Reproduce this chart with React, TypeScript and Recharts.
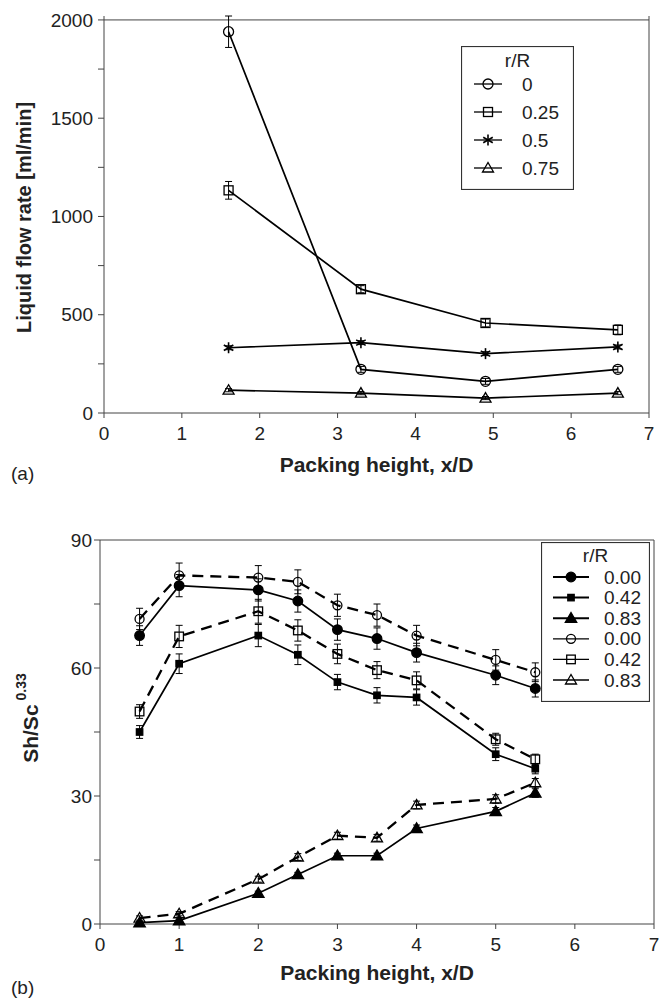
import React from "react";
import { ErrorBar, Legend, Line, LineChart, ReferenceLine, XAxis, YAxis } from "recharts";

const FONT = '"Liberation Sans", Arial, Helvetica, sans-serif';
const AXIS = "#444";
const INK = "#222";

// (a) liquid flow rate at four radial positions
const heightA = [1.6, 3.3, 4.9, 6.6];
const flowR0 = [1940, 222, 161, 222];
const flowR025 = [1133, 630, 458, 423];
const flowR05 = [332, 358, 302, 336];
const flowR075 = [116, 101, 76, 101];
const errFlowR0 = [80, 15, 15, 15];
const errFlowR025 = [45, 18, 20, 25];
const errFlowR05 = [10, 10, 10, 10];
const errFlowR075 = [8, 8, 8, 8];
const flowTicks = [0, 250, 500, 750, 1000, 1250, 1500, 1750, 2000];

// (b) Sh/Sc^0.33 along the bed, two data sets (filled / open symbols)
const heightB = [0.5, 1, 2, 2.5, 3, 3.5, 4, 5, 5.5];
const shFilled000 = [67.6, 79.3, 78.3, 75.7, 69.0, 66.9, 63.6, 58.3, 55.2];
const shFilled042 = [45.0, 61.0, 67.6, 63.1, 56.7, 53.6, 53.1, 39.8, 36.4];
const shFilled083 = [0.3, 0.8, 7.2, 11.6, 16.0, 16.0, 22.4, 26.4, 30.7];
const shOpen000 = [71.5, 81.7, 81.2, 80.2, 74.7, 72.4, 67.6, 61.9, 59.0];
const shOpen042 = [49.8, 67.4, 73.3, 68.8, 63.3, 59.5, 57.1, 43.3, 38.6];
const shOpen083 = [1.4, 2.4, 10.5, 15.7, 20.7, 20.2, 27.9, 29.3, 33.1];
const errFilled000 = [2.3, 2.6, 2.6, 2.6, 2.5, 2.5, 2.2, 2.2, 2.0];
const errFilled042 = [1.5, 2.3, 2.6, 2.3, 1.8, 1.8, 1.8, 1.5, 1.2];
const errFilled083 = [0.3, 0.3, 0.5, 0.5, 0.6, 0.6, 0.8, 0.9, 1.0];
const errOpen000 = [2.5, 2.9, 2.8, 2.8, 2.6, 2.6, 2.4, 2.4, 2.2];
const errOpen042 = [1.6, 2.6, 2.8, 2.5, 2.3, 2.0, 2.0, 1.4, 1.2];
const errOpen083 = [0.5, 0.5, 0.7, 0.8, 0.8, 0.8, 0.9, 1.0, 1.0];
const shTicks = [0, 15, 30, 45, 60, 75, 90];

const xTicks = [0, 1, 2, 3, 4, 5, 6, 7];

const rowsA = heightA.map((x, i) => ({
  x,
  r0: flowR0[i],
  r025: flowR025[i],
  r05: flowR05[i],
  r075: flowR075[i],
  e0: errFlowR0[i],
  e025: errFlowR025[i],
  e05: errFlowR05[i],
  e075: errFlowR075[i],
}));

const rowsB = heightB.map((x, i) => ({
  x,
  f000: shFilled000[i],
  f042: shFilled042[i],
  f083: shFilled083[i],
  o000: shOpen000[i],
  o042: shOpen042[i],
  o083: shOpen083[i],
  ef000: errFilled000[i],
  ef042: errFilled042[i],
  ef083: errFilled083[i],
  eo000: errOpen000[i],
  eo042: errOpen042[i],
  eo083: errOpen083[i],
}));

type Shape = "circle" | "square" | "star" | "triangle";

type SeriesDef = {
  key: string;
  err: string;
  name: string;
  shape: Shape;
  filled: boolean;
  size: number;
  dashed?: boolean;
};

const seriesA: SeriesDef[] = [
  { key: "r0", err: "e0", name: "0", shape: "circle", filled: false, size: 5 },
  { key: "r025", err: "e025", name: "0.25", shape: "square", filled: false, size: 4.5 },
  { key: "r05", err: "e05", name: "0.5", shape: "star", filled: false, size: 5.5 },
  { key: "r075", err: "e075", name: "0.75", shape: "triangle", filled: false, size: 5 },
];

const seriesB: SeriesDef[] = [
  { key: "f000", err: "ef000", name: "0.00", shape: "circle", filled: true, size: 4.8 },
  { key: "f042", err: "ef042", name: "0.42", shape: "square", filled: true, size: 3.2 },
  { key: "f083", err: "ef083", name: "0.83", shape: "triangle", filled: true, size: 5.2 },
  { key: "o000", err: "eo000", name: "0.00", shape: "circle", filled: false, size: 4.5, dashed: true },
  { key: "o042", err: "eo042", name: "0.42", shape: "square", filled: false, size: 4.3, dashed: true },
  { key: "o083", err: "eo083", name: "0.83", shape: "triangle", filled: false, size: 5, dashed: true },
];

function Marker({ cx, cy, shape, filled, size }: { cx: number; cy: number; shape: Shape; filled: boolean; size: number }) {
  const fill = filled ? "#000" : "none";
  const sw = 1.3;
  if (shape === "circle") {
    return <circle cx={cx} cy={cy} r={size} fill={fill} stroke="#000" strokeWidth={sw} />;
  }
  if (shape === "square") {
    return <rect x={cx - size} y={cy - size} width={size * 2} height={size * 2} fill={fill} stroke="#000" strokeWidth={sw} />;
  }
  if (shape === "triangle") {
    const pts = `${cx},${cy - size * 1.1} ${cx - size * 1.1},${cy + size * 0.8} ${cx + size * 1.1},${cy + size * 0.8}`;
    return <polygon points={pts} fill={fill} stroke="#000" strokeWidth={sw} strokeLinejoin="miter" />;
  }
  // asterisk: three strokes through the centre
  const dx = size * Math.cos(Math.PI / 6);
  const dy = size * Math.sin(Math.PI / 6);
  return (
    <g stroke="#000" strokeWidth={1.6}>
      <line x1={cx} y1={cy - size} x2={cx} y2={cy + size} />
      <line x1={cx - dx} y1={cy - dy} x2={cx + dx} y2={cy + dy} />
      <line x1={cx - dx} y1={cy + dy} x2={cx + dx} y2={cy - dy} />
    </g>
  );
}

const dotFor = (s: SeriesDef) => (props: any) => {
  const { cx, cy, index } = props;
  if (cx == null || cy == null) return <g key={`d-${s.key}-${index}`} />;
  return <Marker key={`d-${s.key}-${index}`} cx={cx} cy={cy} shape={s.shape} filled={s.filled} size={s.size} />;
};

type BoxProps = {
  items: SeriesDef[];
  width: number;
  height: number;
  titleY: number;
  rowY0: number;
  rowStep: number;
  lineX1: number;
  lineX2: number;
  textX: number;
};

const LegendBox = ({ items, width, height, titleY, rowY0, rowStep, lineX1, lineX2, textX }: BoxProps) => (
  <svg width={width} height={height} style={{ display: "block", fontFamily: FONT }}>
    <rect x={0.5} y={0.5} width={width - 1} height={height - 1} fill="#fff" stroke="#333" strokeWidth={1.2} />
    <text x={width / 2} y={titleY} textAnchor="middle" dominantBaseline="central" fontSize={19} fill={INK}>
      r/R
    </text>
    {items.map((s, i) => {
      const y = rowY0 + i * rowStep;
      const mx = (lineX1 + lineX2) / 2;
      return (
        <g key={s.key}>
          <line x1={lineX1} y1={y} x2={lineX2} y2={y} stroke="#000" strokeWidth={s.filled ? 2 : 1.3} />
          <Marker cx={mx} cy={y} shape={s.shape} filled={s.filled} size={s.size} />
          <text x={textX} y={y} dominantBaseline="central" fontSize={19} fill={INK}>
            {s.name}
          </text>
        </g>
      );
    })}
  </svg>
);

const xTitle = (offset: number) => (props: any) => {
  const { x, y, width } = props.viewBox;
  return (
    <text x={x + width / 2} y={y + offset} textAnchor="middle" fontWeight="bold" fontSize={21} fill={INK} fontFamily={FONT}>
      Packing height, x/D
    </text>
  );
};

const flowTitle = (props: any) => {
  const { y, height } = props.viewBox;
  const cx = 24;
  const cy = y + height / 2 + 3;
  return (
    <text
      x={cx}
      y={cy}
      transform={`rotate(-90, ${cx}, ${cy})`}
      textAnchor="middle"
      dominantBaseline="central"
      fontWeight="bold"
      fontSize={20}
      fill={INK}
      fontFamily={FONT}
    >
      Liquid flow rate [ml/min]
    </text>
  );
};

const shTitle = (props: any) => {
  const { y, height } = props.viewBox;
  const cx = 30;
  const cy = y + height / 2 - 14;
  return (
    <text
      x={cx}
      y={cy}
      transform={`rotate(-90, ${cx}, ${cy})`}
      textAnchor="middle"
      dominantBaseline="central"
      fontWeight="bold"
      fontSize={21}
      fill={INK}
      fontFamily={FONT}
    >
      Sh/Sc
      <tspan dx={4} dy={-9} fontSize={14}>
        0.33
      </tspan>
    </text>
  );
};

const tickStyle = { fontSize: 19, fill: INK, fontFamily: FONT };

export default function App() {
  return (
    <div style={{ position: "absolute", left: 0, top: 0, width: 665, height: 1002, background: "#fff", fontFamily: FONT }}>
      <div style={{ position: "absolute", left: 0, top: 0 }}>
        <LineChart width={665} height={500} data={rowsA} margin={{ top: 16, right: 16, bottom: 27, left: 0 }}>
          <XAxis
            dataKey="x"
            type="number"
            domain={[0, 7]}
            ticks={xTicks}
            tick={tickStyle}
            tickSize={5}
            tickMargin={9}
            height={60}
            axisLine={{ stroke: AXIS }}
            tickLine={{ stroke: AXIS }}
            label={xTitle(59)}
          />
          <YAxis
            type="number"
            domain={[0, 2000]}
            ticks={flowTicks}
            tickFormatter={(v: number) => (v % 500 === 0 ? String(v) : "")}
            tick={tickStyle}
            tickSize={6}
            tickMargin={5}
            width={104}
            axisLine={{ stroke: AXIS }}
            tickLine={{ stroke: AXIS }}
            label={flowTitle}
          />
          <ReferenceLine y={2000} stroke={AXIS} />
          <ReferenceLine x={7} stroke={AXIS} />
          {seriesA.map((s) => (
            <Line
              key={s.key}
              dataKey={s.key}
              type="linear"
              stroke="#000"
              strokeWidth={1.7}
              dot={dotFor(s)}
              activeDot={false}
              isAnimationActive={false}
            >
              <ErrorBar dataKey={s.err} direction="y" width={3.5} stroke="#000" strokeWidth={1} />
            </Line>
          ))}
          <Legend
            layout="vertical"
            align="center"
            verticalAlign="middle"
            wrapperStyle={{ position: "absolute", left: 461, top: 46, width: 113, height: 144 }}
            content={() => (
              <LegendBox items={seriesA} width={113} height={144} titleY={14} rowY0={38} rowStep={28} lineX1={13} lineX2={41} textX={61} />
            )}
          />
        </LineChart>
      </div>
      <div style={{ position: "absolute", left: 11, top: 463, fontSize: 19, color: INK }}>(a)</div>

      <div style={{ position: "absolute", left: 0, top: 500 }}>
        <LineChart width={665} height={502} data={rowsB} margin={{ top: 40, right: 11, bottom: 23, left: 0 }}>
          <XAxis
            dataKey="x"
            type="number"
            domain={[0, 7]}
            ticks={xTicks}
            tick={tickStyle}
            tickSize={5}
            tickMargin={9}
            height={55}
            axisLine={{ stroke: AXIS }}
            tickLine={{ stroke: AXIS }}
            label={xTitle(56)}
          />
          <YAxis
            type="number"
            domain={[0, 90]}
            ticks={shTicks}
            tickFormatter={(v: number) => (v % 30 === 0 ? String(v) : "")}
            tick={tickStyle}
            tickSize={6}
            tickMargin={2}
            width={100}
            axisLine={{ stroke: AXIS }}
            tickLine={{ stroke: AXIS }}
            label={shTitle}
          />
          <ReferenceLine y={90} stroke={AXIS} />
          <ReferenceLine x={7} stroke={AXIS} />
          {seriesB.map((s) => (
            <Line
              key={s.key}
              dataKey={s.key}
              type="linear"
              stroke="#000"
              strokeWidth={s.dashed ? 2.3 : 1.7}
              strokeDasharray={s.dashed ? "11 7" : undefined}
              dot={dotFor(s)}
              activeDot={false}
              isAnimationActive={false}
            >
              <ErrorBar dataKey={s.err} direction="y" width={3.5} stroke="#000" strokeWidth={1} />
            </Line>
          ))}
          <Legend
            layout="vertical"
            align="center"
            verticalAlign="middle"
            wrapperStyle={{ position: "absolute", left: 541, top: 42, width: 109, height: 160 }}
            content={() => (
              <LegendBox items={seriesB} width={109} height={160} titleY={13} rowY0={35} rowStep={20.6} lineX1={12} lineX2={48} textX={63} />
            )}
          />
        </LineChart>
      </div>
      <div style={{ position: "absolute", left: 11, top: 977, fontSize: 19, color: INK }}>(b)</div>
    </div>
  );
}
